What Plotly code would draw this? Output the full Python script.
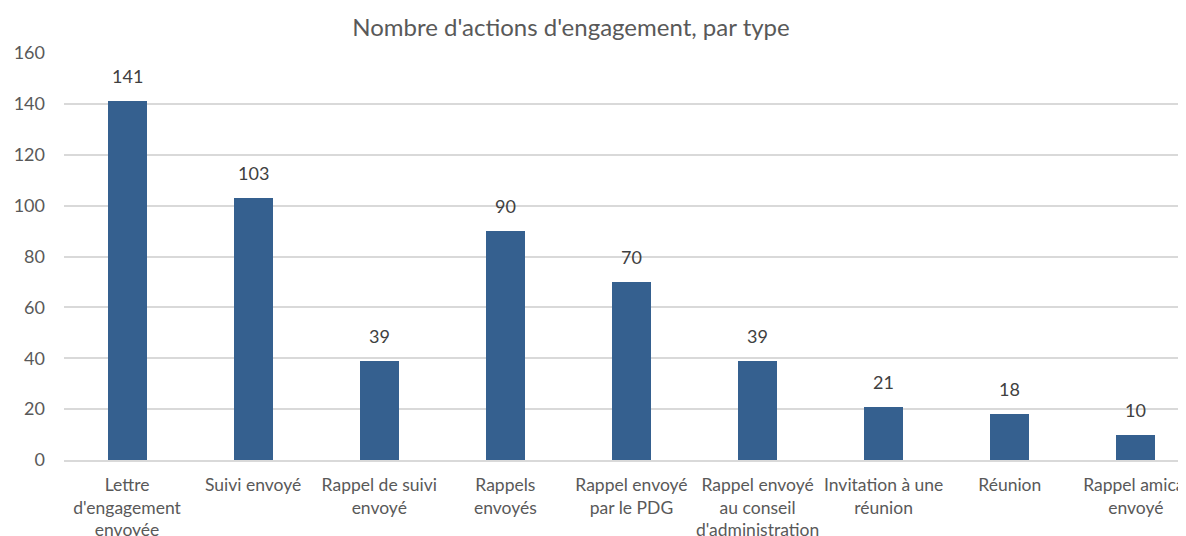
import plotly.graph_objects as go

categories = [
    "Lettre<br>d'engagement<br>envoyée",
    "Suivi envoyé",
    "Rappel de suivi<br>envoyé",
    "Rappels<br>envoyés",
    "Rappel envoyé<br>par le PDG",
    "Rappel envoyé<br>au conseil<br>d'administration",
    "Invitation à une<br>réunion",
    "Réunion",
    "Rappel amical<br>envoyé",
]
values = [141, 103, 39, 90, 70, 39, 21, 18, 10]
y_ticks = [0, 20, 40, 60, 80, 100, 120, 140, 160]

FONT = "Lato, Carlito, 'Open Sans', sans-serif"
BAR = "#35608F"

fig = go.Figure()
fig.add_trace(go.Bar(
    x=list(range(len(categories))),
    y=values,
    width=0.31,
    marker=dict(color=BAR, line=dict(width=0)),
    hoverinfo="skip",
))

for i, v in enumerate(values):
    fig.add_annotation(
        x=i, y=v, xref="x", yref="y",
        text=str(v), showarrow=False,
        yanchor="middle", yshift=25,
        font=dict(family=FONT, size=18, color="#404040"),
    )

fig.update_layout(
    width=1186, height=536,
    margin=dict(l=56, r=0, t=45, b=84),
    paper_bgcolor="white", plot_bgcolor="white",
    showlegend=False,
    bargap=0,
    title=dict(
        text="Nombre d'actions d'engagement, par type",
        x=563 / 1186, xref="container", xanchor="center",
        y=1 - 20 / 536, yref="container", yanchor="middle",
        font=dict(family=FONT, size=24, color="#595959"),
    ),
    font=dict(family=FONT, size=17.5, color="#595959"),
)

fig.update_xaxes(
    range=[-0.5, 8.461],
    tickmode="array",
    tickvals=list(range(len(categories))),
    ticktext=categories,
    showgrid=False,
    showline=True, linecolor="#d9d9d9", linewidth=1.5,
    ticks="", ticklabelstandoff=8,
    tickfont=dict(family=FONT, size=17.5, color="#595959"),
    zeroline=False,
)
fig.update_yaxes(
    range=[0, 160],
    tickmode="array", tickvals=y_ticks,
    showgrid=True, gridcolor="#d9d9d9", gridwidth=1.5,
    zeroline=False, showline=False,
    ticks="", ticklabelstandoff=18,
    tickfont=dict(family=FONT, size=18, color="#595959"),
)

fig.write_html("out.html")
